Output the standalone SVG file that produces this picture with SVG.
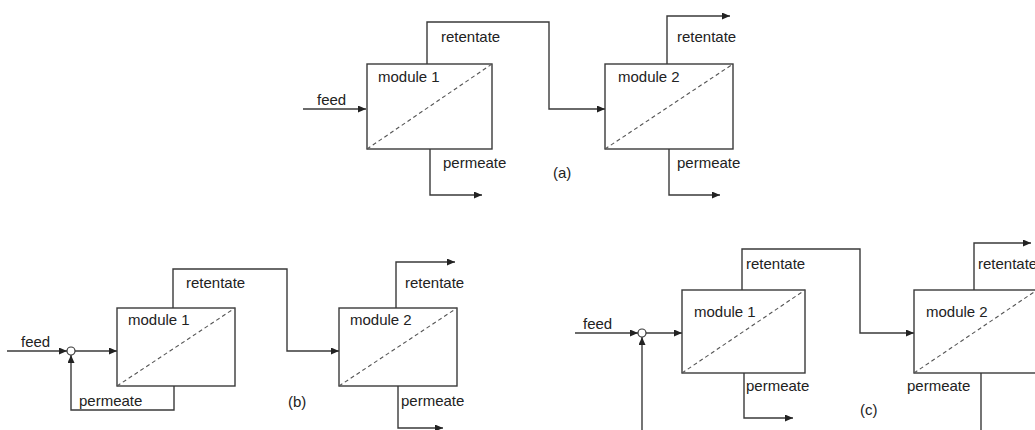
<svg xmlns="http://www.w3.org/2000/svg" width="1035" height="430" viewBox="0 0 1035 430">
<style>
.box{fill:#fff;stroke:#3a3a3a;stroke-width:1.4}
.diag{stroke:#555;stroke-width:1.1;stroke-dasharray:4 3;fill:none}
.ln{fill:none;stroke:#3a3a3a;stroke-width:1.4}
.arr{marker-end:url(#ah)}
.jn{fill:#fff;stroke:#3a3a3a;stroke-width:1.2}
text{font-family:"Liberation Sans",Arial,sans-serif;font-size:15px;fill:#222}
</style>
<defs>
<marker id="ah" markerUnits="userSpaceOnUse" markerWidth="9" markerHeight="7" refX="8" refY="3.5" orient="auto">
<path d="M0,0 L8,3.5 L0,7 z" fill="#222"/>
</marker>
</defs>
<rect width="1035" height="430" fill="#fff"/>
<g id="connectors">
<!-- (a) -->
<path class="ln arr" d="M303,109 H366"/>
<path class="ln arr" d="M427,64 V22 H549 V109 H605"/>
<path class="ln arr" d="M667,64 V16 H730"/>
<path class="ln arr" d="M430,149 V195 H482"/>
<path class="ln arr" d="M669,149 V195 H720"/>
<!-- (b) -->
<path class="ln arr" d="M7,351 H67"/>
<path class="ln arr" d="M75,351 H117"/>
<path class="ln arr" d="M173,308 V269 H287 V351 H339"/>
<path class="ln arr" d="M396,308 V262 H455"/>
<path class="ln arr" d="M174,386 V410 H71 V355"/>
<path class="ln arr" d="M398,386 V428 H443"/>
<!-- (c) -->
<path class="ln arr" d="M575,333 H638"/>
<path class="ln arr" d="M646,333 H682"/>
<path class="ln arr" d="M642,430 V337"/>
<path class="ln arr" d="M742,290 V249 H860 V333 H914"/>
<path class="ln arr" d="M974,290 V243 H1031"/>
<path class="ln arr" d="M744,373 V418 H793"/>
<path class="ln" d="M981,373 V430"/>
</g>
<g id="a-module1">
<rect class="box" x="367" y="64" width="125" height="85"/>
<path class="diag" d="M367,149 L492,64"/>
<text x="378" y="82">module 1</text>
</g>
<g id="a-module2">
<rect class="box" x="605" y="64" width="128" height="85"/>
<path class="diag" d="M605,149 L733,64"/>
<text x="618" y="82">module 2</text>
</g>
<g id="b-junction"><circle class="jn" cx="71" cy="351" r="4"/></g>
<g id="b-module1">
<rect class="box" x="117" y="308" width="118" height="78"/>
<path class="diag" d="M117,386 L235,308"/>
<text x="128" y="325">module 1</text>
</g>
<g id="b-module2">
<rect class="box" x="339" y="308" width="118" height="78"/>
<path class="diag" d="M339,386 L457,308"/>
<text x="350" y="325">module 2</text>
</g>
<g id="c-junction"><circle class="jn" cx="642" cy="333" r="4"/></g>
<g id="c-module1">
<rect class="box" x="682" y="290" width="123" height="83"/>
<path class="diag" d="M682,373 L805,290"/>
<text x="694" y="317">module 1</text>
</g>
<g id="c-module2">
<rect class="box" x="914" y="290" width="123" height="83"/>
<path class="diag" d="M914,373 L1037,290"/>
<text x="926" y="317">module 2</text>
</g>
<g id="labels">
<text x="317" y="105">feed</text>
<text x="441" y="42">retentate</text>
<text x="677" y="42">retentate</text>
<text x="443" y="168">permeate</text>
<text x="677" y="168">permeate</text>
<text x="553" y="178">(a)</text>
<text x="21" y="347">feed</text>
<text x="186" y="288">retentate</text>
<text x="405" y="288">retentate</text>
<text x="79" y="406">permeate</text>
<text x="401" y="406">permeate</text>
<text x="288" y="407">(b)</text>
<text x="583" y="329">feed</text>
<text x="746" y="269">retentate</text>
<text x="978" y="269">retentate</text>
<text x="746" y="391">permeate</text>
<text x="907" y="391">permeate</text>
<text x="860" y="415">(c)</text>
</g>
</svg>
